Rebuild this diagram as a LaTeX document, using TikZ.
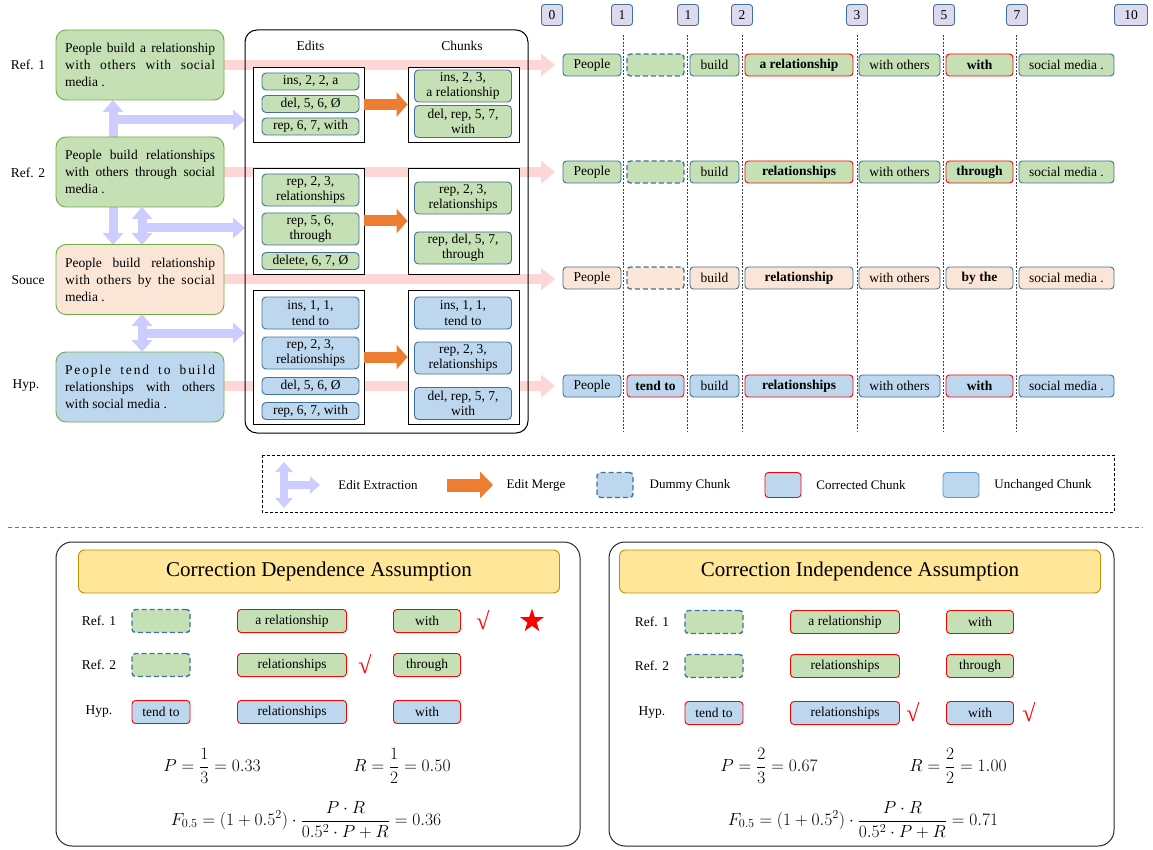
\RequirePackage{fix-cm}
\documentclass[tikz,border=0pt]{standalone}
\usepackage{amsmath}
\usepackage{fontspec}
\setmainfont{Liberation Serif}
\usetikzlibrary{arrows.meta,shapes.geometric}
\definecolor{gfill}{HTML}{C5E0B4}
\definecolor{pfill}{HTML}{FBE5D6}
\definecolor{bfill}{HTML}{BDD7EE}
\definecolor{gbord}{HTML}{70AD47}
\definecolor{bbord}{HTML}{41719C}
\definecolor{ubord}{HTML}{5B9BD5}
\definecolor{lav}{HTML}{CCCCFF}
\definecolor{pinkband}{HTML}{FFD6D6}
\definecolor{orng}{HTML}{ED7D31}
\definecolor{idxfill}{HTML}{DDD9EF}
\definecolor{ttlfill}{HTML}{FFE699}
\definecolor{ttlbord}{HTML}{BF9000}
\definecolor{sepblue}{HTML}{4A7EBB}
\tikzset{
  leftbox/.style={draw=gbord, line width=0.9pt, rounded corners=10pt, text width=150pt, inner xsep=9pt, inner ysep=0pt, minimum height=70pt, align=justify, font=\fontsize{13.5}{17}\selectfont},
  rowlabel/.style={font=\fontsize{13.5}{15.5}\selectfont},
  grpbox/.style={draw=black, line width=0.9pt, fill=white, inner sep=0pt},
  item/.style={draw=bbord, line width=0.9pt, rounded corners=4pt, minimum width=97pt, align=center, inner sep=0pt, font=\fontsize{13.5}{15.5}\selectfont},
  itemg/.style={item, fill=gfill},
  itemb/.style={item, fill=bfill},
  one/.style={minimum height=17pt},
  two/.style={minimum height=32pt},
  chunk/.style={draw=bbord, line width=0.9pt, rounded corners=3.5pt, minimum height=22pt, inner sep=0pt, font=\fontsize{13.5}{15.5}\selectfont},
  corr/.style={draw=red},
  dummy/.style={dash pattern=on 5pt off 3pt, line width=1.4pt},
  idx/.style={draw=bbord, fill=idxfill, line width=0.9pt, rounded corners=3pt, minimum height=21pt, minimum width=21pt, inner sep=2pt, font=\fontsize{13.5}{15.5}\selectfont},
  band/.style={pinkband, line width=10pt, arrows={-Triangle[width=22pt,length=14pt]}},
  lavar/.style={lav, line width=9pt},
  lavdbl/.style={arrows={Triangle[width=20pt,length=12pt]-Triangle[width=20pt,length=12pt]}},
  lavone/.style={arrows={-Triangle[width=20pt,length=12pt]}},
  merge/.style={orng, line width=11pt, arrows={-Triangle[width=24pt,length=11pt]}},
  vline/.style={black!75, line width=0.6pt, dash pattern=on 2pt off 1.5pt},
  panel/.style={draw=black!85, line width=1pt, rounded corners=16pt},
  ttl/.style={draw=ttlbord, fill=ttlfill, line width=0.9pt, rounded corners=6pt, minimum width=481pt, minimum height=43pt, font=\fontsize{21}{24}\selectfont},
  chk/.style={text=red, font=\fontsize{24}{26}\selectfont},
  eqn/.style={font=\fontsize{17.5}{20}\selectfont},
  lgtext/.style={font=\fontsize{13}{15}\selectfont},
}
\begin{document}
\begin{tikzpicture}[x=1pt,y=-1pt]
\useasboundingbox (0,0) rectangle (1153,850);
% ---------- pink bands
\coordinate (b1) at (555,65);
\coordinate (b2) at (555,172);
\coordinate (b3) at (555,279);
\coordinate (b4) at (555,386);
\draw[band] (150,65) -- (b1);
\draw[band] (150,172) -- (b2);
\draw[band] (150,279) -- (b3);
\draw[band] (150,386) -- (b4);
% ---------- lavender extraction arrows
\coordinate (x1t) at (113,100); \coordinate (x1b) at (113,245);
\coordinate (x1s) at (113,120); \coordinate (x1e) at (245,120);
\coordinate (x2t) at (142,207); \coordinate (x2b) at (142,245);
\coordinate (x2s) at (142,228); \coordinate (x2e) at (245,228);
\coordinate (x3t) at (142,314); \coordinate (x3b) at (142,352);
\coordinate (x3s) at (142,333); \coordinate (x3e) at (245,333);
\draw[lavar, lavdbl] (x1t) -- (x1b);
\draw[lavar, lavone] (x1s) -- (x1e);
\draw[lavar, lavdbl] (x2t) -- (x2b);
\draw[lavar, lavone] (x2s) -- (x2e);
\draw[lavar, lavdbl] (x3t) -- (x3b);
\draw[lavar, lavone] (x3s) -- (x3e);
% ---------- left sentences
\node[leftbox, fill=gfill] (r1) at (140,65) {People build a relationship\linebreak {\addfontfeature{LetterSpace=4}with others with social}\linebreak media .};
\node[leftbox, fill=gfill] (r2) at (140,172) {People build relationships\linebreak with others through social\linebreak media .};
\node[leftbox, fill=pfill] (src) at (140,279.5) {People build relationship\linebreak {\addfontfeature{LetterSpace=3}with others by the social}\linebreak media .};
\node[leftbox, fill=bfill] (hyp) at (140,387) {{\addfontfeature{LetterSpace=14}People tend to build}\linebreak relationships with others\linebreak with social media .};
\node[rowlabel] (l1) at (28,65) {Ref. 1};
\node[rowlabel] (l2) at (28,173) {Ref. 2};
\node[rowlabel] (l3) at (28,280) {Souce};
\node[rowlabel] (l4) at (26,386) {Hyp.};
% ---------- big box
\draw[line width=1pt, rounded corners=12pt] (245,30) rectangle (528,433);
\node[rowlabel] (hE) at (310.5,46) {Edits};
\node[rowlabel] (hC) at (462,46) {Chunks};
\node[grpbox, minimum width=111pt, minimum height=75pt] (e1) at (308.5,104.5) {};
\node[grpbox, minimum width=111pt, minimum height=75pt] (c1) at (463.5,104.5) {};
\node[grpbox, minimum width=111pt, minimum height=106pt] (e2) at (308.5,221) {};
\node[grpbox, minimum width=111pt, minimum height=106pt] (c2) at (463.5,221) {};
\node[grpbox, minimum width=111pt, minimum height=134pt] (e3) at (308.5,357) {};
\node[grpbox, minimum width=111pt, minimum height=134pt] (c3) at (463.5,357) {};
\draw[merge] (e1.east) -- (c1.west);
\draw[merge] (e2.east) -- (c2.west);
\draw[merge] (e3.east) -- (c3.west);
% group 1
\node[itemg, one] (i11) at (310.5,81.5) {ins, 2, 2, a};
\node[itemg, one] (i12) at (310.5,104) {del, 5, 6, Ø};
\node[itemg, one] (i13) at (310.5,126.5) {rep, 6, 7, with};
\node[itemg, two] (k11) at (463,86) {ins, 2, 3,\\a relationship};
\node[itemg, two] (k12) at (463,121.5) {del, rep, 5, 7,\\with};
% group 2
\node[itemg, two] (i21) at (310.5,190) {rep, 2, 3,\\relationships};
\node[itemg, two] (i22) at (310.5,229) {rep, 5, 6,\\through};
\node[itemg, one] (i23) at (310.5,261) {delete, 6, 7, Ø};
\node[itemg, two] (k21) at (463,198) {rep, 2, 3,\\relationships};
\node[itemg, two] (k22) at (463,248) {rep, del, 5, 7,\\through};
% group 3
\node[itemb, two] (i31) at (310.5,313) {ins, 1, 1,\\tend to};
\node[itemb, two] (i32) at (310.5,353) {rep, 2, 3,\\relationships};
\node[itemb, one] (i33) at (310.5,386) {del, 5, 6, Ø};
\node[itemb, one] (i34) at (310.5,411) {rep, 6, 7, with};
\node[itemb, two] (k31) at (463,313) {ins, 1, 1,\\tend to};
\node[itemb, two] (k32) at (463,358) {rep, 2, 3,\\relationships};
\node[itemb, two] (k33) at (463,403.5) {del, rep, 5, 7,\\with};
% ---------- indices and separators
\node[idx] (n0) at (552,15) {0};
\node[idx] (n1) at (622,15) {1};
\node[idx] (n1b) at (688,15) {1};
\node[idx] (n2) at (742,15) {2};
\node[idx] (n3) at (857,15) {3};
\node[idx] (n5) at (944,15) {5};
\node[idx] (n7) at (1017,15) {7};
\node[idx, minimum width=33pt] (n10) at (1131,15) {10};
\foreach \xx in {623,687,742,857,943,1016} \draw[vline] (\xx,35) -- (\xx,431);
% ---------- chunk rows
% Ref 1
\node[chunk, fill=gfill, minimum width=58pt] (a1) at (592,65) {People};
\node[chunk, fill=gfill, dummy, minimum width=57pt] (a2) at (655.5,65) {};
\node[chunk, fill=gfill, minimum width=49pt] (a3) at (714.5,65) {build};
\node[chunk, fill=gfill, corr, minimum width=108pt] (a4) at (799,65) {\textbf{a relationship}};
\node[chunk, fill=gfill, minimum width=81pt] (a5) at (899.5,65) {with others};
\node[chunk, fill=gfill, corr, minimum width=67pt] (a6) at (979.5,65) {\textbf{with}};
\node[chunk, fill=gfill, minimum width=95pt] (a7) at (1066.5,65) {social media .};
% Ref 2
\node[chunk, fill=gfill, minimum width=58pt] (b1n) at (592,172) {People};
\node[chunk, fill=gfill, dummy, minimum width=57pt] (b2n) at (655.5,172) {};
\node[chunk, fill=gfill, minimum width=49pt] (b3n) at (714.5,172) {build};
\node[chunk, fill=gfill, corr, minimum width=108pt] (b4n) at (799,172) {\textbf{relationships}};
\node[chunk, fill=gfill, minimum width=81pt] (b5n) at (899.5,172) {with others};
\node[chunk, fill=gfill, corr, minimum width=67pt] (b6n) at (979.5,172) {\textbf{through}};
\node[chunk, fill=gfill, minimum width=95pt] (b7n) at (1066.5,172) {social media .};
% Source
\node[chunk, fill=pfill, minimum width=58pt] (s1) at (592,278) {People};
\node[chunk, fill=pfill, dummy, minimum width=57pt] (s2) at (655.5,278) {};
\node[chunk, fill=pfill, minimum width=49pt] (s3) at (714.5,278) {build};
\node[chunk, fill=pfill, minimum width=108pt] (s4) at (799,278) {\textbf{relationship}};
\node[chunk, fill=pfill, minimum width=81pt] (s5) at (899.5,278) {with others};
\node[chunk, fill=pfill, minimum width=67pt] (s6) at (979.5,278) {\textbf{by the}};
\node[chunk, fill=pfill, minimum width=95pt] (s7) at (1066.5,278) {social media .};
% Hyp
\node[chunk, fill=bfill, minimum width=58pt] (h1) at (592,386) {People};
\node[chunk, fill=bfill, corr, minimum width=57pt] (h2) at (655.5,386) {\textbf{tend to}};
\node[chunk, fill=bfill, minimum width=49pt] (h3) at (714.5,386) {build};
\node[chunk, fill=bfill, corr, minimum width=108pt] (h4) at (799,386) {\textbf{relationships}};
\node[chunk, fill=bfill, minimum width=81pt] (h5) at (899.5,386) {with others};
\node[chunk, fill=bfill, corr, minimum width=67pt] (h6) at (979.5,386) {\textbf{with}};
\node[chunk, fill=bfill, minimum width=95pt] (h7) at (1066.5,386) {social media .};
% ---------- legend
\draw[line width=0.9pt, dash pattern=on 3pt off 2pt] (262,455) rectangle (1114,512);
\coordinate (g1t) at (284,462); \coordinate (g1b) at (284,508);
\coordinate (g1s) at (284,485); \coordinate (g1e) at (320,485);
\draw[lav, line width=8pt, arrows={Triangle[width=17pt,length=10pt]-Triangle[width=17pt,length=10pt]}] (g1t) -- (g1b);
\draw[lav, line width=8pt, arrows={-Triangle[width=17pt,length=10pt]}] (g1s) -- (g1e);
\node[lgtext] (t1) at (378,485) {Edit Extraction};
\coordinate (g2s) at (447,485); \coordinate (g2e) at (493,485);
\draw[orng, line width=13pt, arrows={-Triangle[width=26pt,length=13pt]}] (g2s) -- (g2e);
\node[lgtext] (t2) at (536,485) {Edit Merge};
\node[chunk, fill=bfill, dummy, minimum width=36pt, minimum height=25pt] (g3) at (615,485) {};
\node[lgtext] (t3) at (690,485) {Dummy Chunk};
\node[chunk, fill=bfill, corr, minimum width=36pt, minimum height=25pt] (g4) at (783,485) {};
\node[lgtext] (t4) at (861,485) {Corrected Chunk};
\node[chunk, fill=bfill, draw=ubord, minimum width=36pt, minimum height=25pt] (g5) at (961,485) {};
\node[lgtext] (t5) at (1043,485) {Unchanged Chunk};
% ---------- separator
\draw[sepblue, line width=1pt, dash pattern=on 4pt off 3pt] (8,527) -- (1143,527);
% ---------- left panel
\draw[panel] (56,542) rectangle (580,846);
\node[ttl] (T1) at (319,571.5) {Correction Dependence Assumption};
\node[rowlabel] (p1) at (99,621) {Ref. 1};
\node[rowlabel] (p2) at (99,665) {Ref. 2};
\node[rowlabel] (p3) at (99,712) {Hyp.};
\node[chunk, fill=gfill, dummy, minimum width=58pt, minimum height=23pt] (q11) at (161,621) {};
\node[chunk, fill=gfill, corr, minimum width=109pt, minimum height=23pt] (q12) at (292,621) {a relationship};
\node[chunk, fill=gfill, corr, minimum width=67pt, minimum height=23pt] (q13) at (427,621) {with};
\node[chk] (v1) at (483,620) {√};
\node[star, star points=5, star point ratio=2.6, fill=red, minimum size=25pt, inner sep=0pt] (st) at (532,621) {};
\node[chunk, fill=gfill, dummy, minimum width=58pt, minimum height=23pt] (q21) at (161,665) {};
\node[chunk, fill=gfill, corr, minimum width=109pt, minimum height=23pt] (q22) at (292,665) {relationships};
\node[chk] (v2) at (365,664) {√};
\node[chunk, fill=gfill, corr, minimum width=67pt, minimum height=23pt] (q23) at (427,665) {through};
\node[chunk, fill=bfill, corr, minimum width=58pt, minimum height=23pt] (q31) at (161,712) {tend to};
\node[chunk, fill=bfill, corr, minimum width=109pt, minimum height=23pt] (q32) at (292,712) {relationships};
\node[chunk, fill=bfill, corr, minimum width=67pt, minimum height=23pt] (q33) at (427,712) {with};
\node[eqn] (P1) at (212,766) {$P=\dfrac{1}{3}=0.33$};
\node[eqn] (R1) at (402,766) {$R=\dfrac{1}{2}=0.50$};
\node[eqn] (F1) at (306,820) {$F_{0.5}=(1+0.5^2)\cdot\dfrac{P\cdot R}{0.5^2\cdot P+R}=0.36$};
% ---------- right panel
\draw[panel] (609,542) rectangle (1114,846);
\node[ttl] (T2) at (860,571.5) {Correction Independence Assumption};
\node[rowlabel] (p4) at (652,622) {Ref. 1};
\node[rowlabel] (p5) at (652,666) {Ref. 2};
\node[rowlabel] (p6) at (652,713) {Hyp.};
\node[chunk, fill=gfill, dummy, minimum width=58pt, minimum height=23pt] (u11) at (714,622) {};
\node[chunk, fill=gfill, corr, minimum width=109pt, minimum height=23pt] (u12) at (845,622) {a relationship};
\node[chunk, fill=gfill, corr, minimum width=67pt, minimum height=23pt] (u13) at (980,622) {with};
\node[chunk, fill=gfill, dummy, minimum width=58pt, minimum height=23pt] (u21) at (714,666) {};
\node[chunk, fill=gfill, corr, minimum width=109pt, minimum height=23pt] (u22) at (845,666) {relationships};
\node[chunk, fill=gfill, corr, minimum width=67pt, minimum height=23pt] (u23) at (980,666) {through};
\node[chunk, fill=bfill, corr, minimum width=58pt, minimum height=23pt] (u31) at (714,713) {tend to};
\node[chunk, fill=bfill, corr, minimum width=109pt, minimum height=23pt] (u32) at (845,713) {relationships};
\node[chk] (v3) at (913,712) {√};
\node[chunk, fill=bfill, corr, minimum width=67pt, minimum height=23pt] (u33) at (980,713) {with};
\node[chk] (v4) at (1029,712) {√};
\node[eqn] (P2) at (769,766) {$P=\dfrac{2}{3}=0.67$};
\node[eqn] (R2) at (958,766) {$R=\dfrac{2}{2}=1.00$};
\node[eqn] (F2) at (863,820) {$F_{0.5}=(1+0.5^2)\cdot\dfrac{P\cdot R}{0.5^2\cdot P+R}=0.71$};
\end{tikzpicture}
\end{document}
